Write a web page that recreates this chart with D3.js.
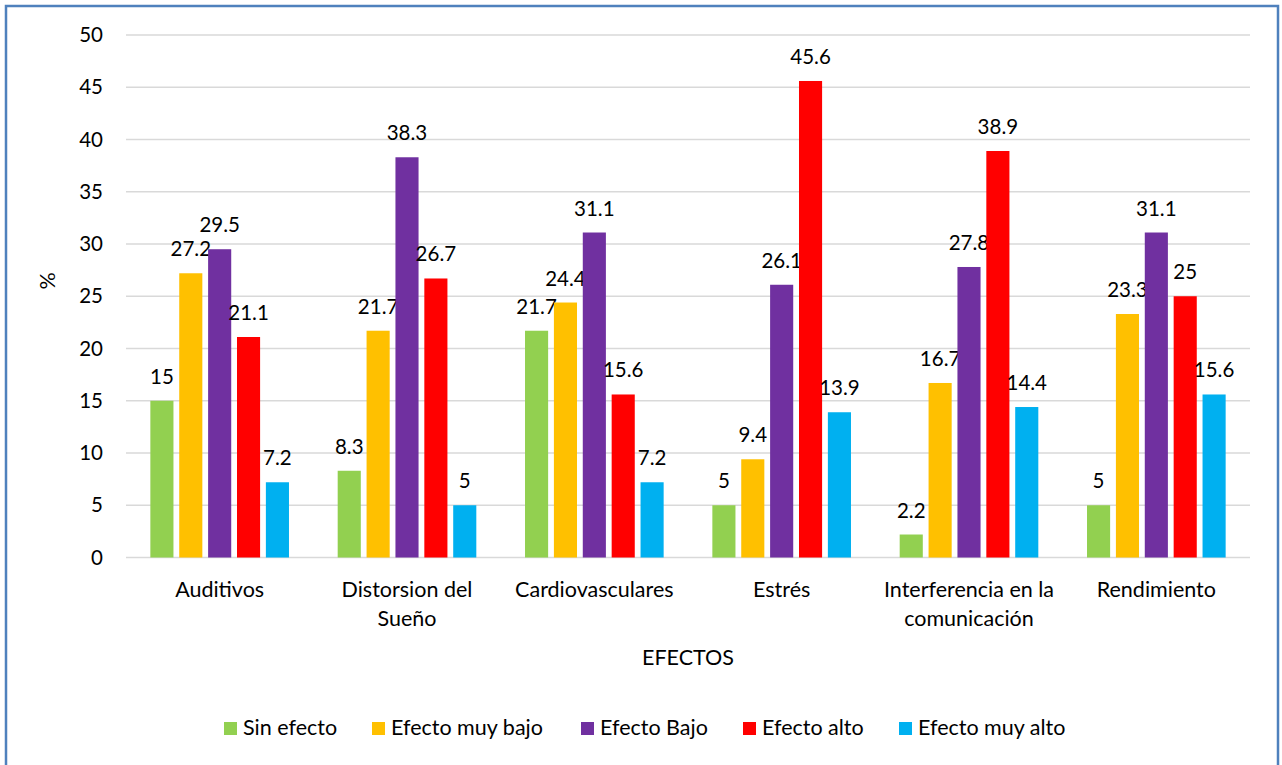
<!DOCTYPE html>
<html>
<head>
<meta charset="utf-8">
<script src="https://cdn.jsdelivr.net/npm/d3@7"></script>
<style>
  body { margin: 0; background: #fff; }
  svg text { font-family: Lato, "Open Sans", sans-serif; fill: #000; }
</style>
</head>
<body>
<svg id="chart"></svg>
<script>
// data
const categories = [["Auditivos"], ["Distorsion del", "Sueño"], ["Cardiovasculares"], ["Estrés"], ["Interferencia en la", "comunicación"], ["Rendimiento"]];
const seriesNames = ["Sin efecto", "Efecto muy bajo", "Efecto Bajo", "Efecto alto", "Efecto muy alto"];
const seriesColors = ["#92d050", "#ffc000", "#7030a0", "#ff0000", "#00b0f0"];
const sinEfecto = [15, 8.3, 21.7, 5, 2.2, 5];
const muyBajo = [27.2, 21.7, 24.4, 9.4, 16.7, 23.3];
const bajo = [29.5, 38.3, 31.1, 26.1, 27.8, 31.1];
const alto = [21.1, 26.7, 15.6, 45.6, 38.9, 25];
const muyAlto = [7.2, 5, 7.2, 13.9, 14.4, 15.6];
const yTicks = [0, 5, 10, 15, 20, 25, 30, 35, 40, 45, 50];

const allSeries = [sinEfecto, muyBajo, bajo, alto, muyAlto];

// window
let win = {w: 1282, h: 765};
const svg = d3.select("#chart").attr("width", win.w).attr("height", win.h);

// outer blue frame
svg.append("rect")
  .attr("x", 6).attr("y", 6)
  .attr("width", 1272).attr("height", 780)
  .attr("fill", "none")
  .attr("stroke", "#4f81bd")
  .attr("stroke-width", 2.5);

let plot = {left: 126, right: 1250, top: 35, bottom: 557.5};
let labelSize = 21.5;
let numSize = 20.5;

let x = d3.scaleBand()
  .domain(d3.range(categories.length))
  .range([plot.left, plot.right])
  .paddingInner(0.26).paddingOuter(0.13);

let xs = d3.scaleBand()
  .domain(d3.range(seriesNames.length))
  .range([0, x.bandwidth()])
  .paddingInner(0.2);

let y = d3.scaleLinear().domain([0, 50]).range([plot.bottom, plot.top]);

// gridlines
svg.append("g")
  .selectAll("line")
  .data(yTicks)
  .enter()
  .append("line")
  .attr("x1", plot.left).attr("x2", plot.right)
  .attr("y1", d => y(d)).attr("y2", d => y(d))
  .attr("stroke", "#d9d9d9")
  .attr("stroke-width", 1.3);

// y axis labels
const yAxis = svg.append("g")
  .attr("transform", "translate(" + (plot.left - 23) + ",0)")
  .call(d3.axisLeft(y).tickValues(yTicks).tickSize(0).tickPadding(0));
yAxis.select(".domain").remove();
yAxis.selectAll("text")
  .attr("font-size", numSize)
  .style("font-family", "Lato, sans-serif")
  .attr("fill", "#000");

// bars
const groups = svg.append("g")
  .selectAll("g")
  .data(categories)
  .enter()
  .append("g")
  .attr("transform", (d, i) => "translate(" + x(i) + ",0)");

groups.each(function(cat, ci) {
  const g = d3.select(this);
  allSeries.forEach(function(s, si) {
    g.append("rect")
      .attr("x", xs(si))
      .attr("y", y(s[ci]))
      .attr("width", xs.bandwidth())
      .attr("height", y(0) - y(s[ci]))
      .attr("fill", seriesColors[si]);
    g.append("text")
      .attr("x", xs(si) + xs.bandwidth() / 2)
      .attr("y", y(s[ci]) - 17)
      .attr("text-anchor", "middle")
      .attr("font-size", numSize)
      .text(s[ci]);
  });
  // category label
  cat.forEach(function(line, li) {
    g.append("text")
      .attr("x", x.bandwidth() / 2)
      .attr("y", 597 + li * 29)
      .attr("text-anchor", "middle")
      .attr("font-size", labelSize)
      .text(line);
  });
});

// axis titles
svg.append("text")
  .attr("transform", "translate(55,281) rotate(-90)")
  .attr("text-anchor", "middle")
  .attr("font-size", labelSize)
  .text("%");

svg.append("text")
  .attr("x", 688).attr("y", 665)
  .attr("text-anchor", "middle")
  .attr("font-size", labelSize)
  .text("EFECTOS");

// legend
let legendX = [224, 372, 581, 743, 899];
const legend = svg.append("g")
  .selectAll("g")
  .data(seriesNames)
  .enter()
  .append("g")
  .attr("transform", (d, i) => "translate(" + legendX[i] + ",722)");
legend.append("rect")
  .attr("x", 0).attr("y", 0)
  .attr("width", 13).attr("height", 13)
  .attr("fill", (d, i) => seriesColors[i]);
legend.append("text")
  .attr("x", 19).attr("y", 13)
  .attr("font-size", labelSize)
  .text(d => d);
</script>
</body>
</html>
